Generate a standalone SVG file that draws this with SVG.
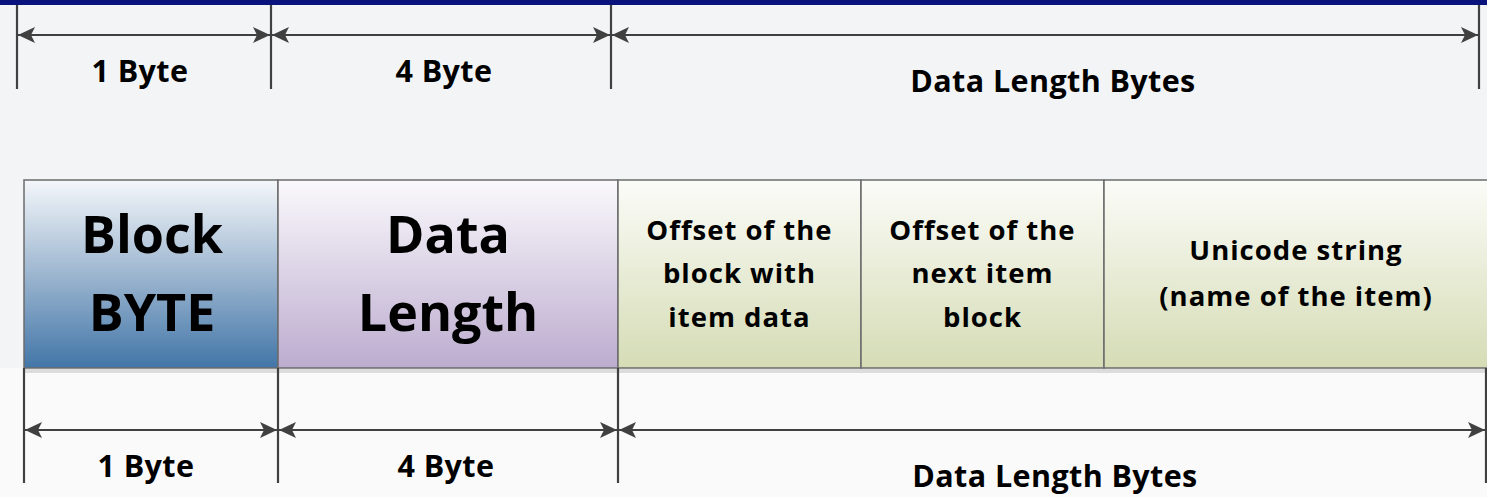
<svg xmlns="http://www.w3.org/2000/svg" width="1487" height="497" viewBox="0 0 1487 497">
  <defs>
    <linearGradient id="gBlue" x1="0" y1="0" x2="0" y2="1">
      <stop offset="0" stop-color="#f4f7fa"/>
      <stop offset="0.5" stop-color="#9db6d0"/>
      <stop offset="1" stop-color="#4276a8"/>
    </linearGradient>
    <linearGradient id="gPurple" x1="0" y1="0" x2="0" y2="1">
      <stop offset="0" stop-color="#faf9fc"/>
      <stop offset="1" stop-color="#bcaccf"/>
    </linearGradient>
    <linearGradient id="gGreen" x1="0" y1="0" x2="0" y2="1">
      <stop offset="0" stop-color="#fbfcf8"/>
      <stop offset="1" stop-color="#d5dcb5"/>
    </linearGradient>
    <marker id="ah" viewBox="0 0 17 16" refX="17" refY="8" markerWidth="17" markerHeight="16" markerUnits="userSpaceOnUse" orient="auto-start-reverse">
      <path d="M0,0 L17,8 L0,16 L4,8 Z" fill="#404040"/>
    </marker>
  </defs>
  <style>
    .tick { stroke: #404040; stroke-width: 2.2; }
    .dim { stroke: #404040; stroke-width: 2.2; fill: none; marker-start: url(#ah); marker-end: url(#ah); }
    .cell { stroke: #6b6b6b; stroke-width: 1.5; }
    text { font-family: "Open Sans", "Liberation Sans", sans-serif; font-weight: bold; fill: #000; text-anchor: middle; }
    .big { font-size: 52px; }
    .mid { font-size: 27.5px; letter-spacing: 1px; }
    .lbl { font-size: 30.5px; letter-spacing: 0.4px; }
  </style>

  <!-- background -->
  <rect x="0" y="0" width="1487" height="497" fill="#f3f4f6"/>
  <rect x="0" y="368" width="1487" height="129" fill="#fafafb"/>
  <rect x="0" y="0" width="1487" height="5" fill="#0a127c"/>
  <rect x="24" y="369" width="1463" height="4" fill="#dcdcdc"/>

  <!-- field cells -->
  <g id="block-byte">
    <rect class="cell" x="24" y="180" width="254" height="188" fill="url(#gBlue)"/>
    <text class="big" x="152" y="253">Block</text>
    <text class="big" x="152" y="331">BYTE</text>
  </g>
  <g id="data-length">
    <rect class="cell" x="278" y="180" width="340" height="188" fill="url(#gPurple)"/>
    <text class="big" x="448" y="253">Data</text>
    <text class="big" x="448" y="331">Length</text>
  </g>
  <g id="offset-item-data">
    <rect class="cell" x="618" y="180" width="243" height="188" fill="url(#gGreen)"/>
    <text class="mid" x="739.5" y="240">Offset of the</text>
    <text class="mid" x="739.5" y="283">block with</text>
    <text class="mid" x="739.5" y="327">item data</text>
  </g>
  <g id="offset-next-item">
    <rect class="cell" x="861" y="180" width="243" height="188" fill="url(#gGreen)"/>
    <text class="mid" x="982.5" y="240">Offset of the</text>
    <text class="mid" x="982.5" y="283">next item</text>
    <text class="mid" x="982.5" y="327">block</text>
  </g>
  <g id="unicode-name">
    <rect class="cell" x="1104" y="180" width="386" height="188" fill="url(#gGreen)"/>
    <text class="mid" x="1296" y="260">Unicode string</text>
    <text class="mid" x="1296" y="306">(name of the item)</text>
  </g>

  <!-- size dimension lines -->
  <g id="connectors">
    <line class="tick" x1="17" y1="5" x2="17" y2="89"/>
    <line class="tick" x1="271" y1="5" x2="271" y2="89"/>
    <line class="tick" x1="611" y1="5" x2="611" y2="89"/>
    <line class="tick" x1="1479" y1="5" x2="1479" y2="89"/>
    <line class="dim" x1="18" y1="35" x2="270" y2="35"/>
    <line class="dim" x1="272" y1="35" x2="610" y2="35"/>
    <line class="dim" x1="612" y1="35" x2="1478" y2="35"/>

    <line class="tick" x1="24" y1="368" x2="24" y2="483"/>
    <line class="tick" x1="278" y1="368" x2="278" y2="483"/>
    <line class="tick" x1="618" y1="368" x2="618" y2="483"/>
    <line class="tick" x1="1486" y1="368" x2="1486" y2="483"/>
    <line class="dim" x1="25" y1="430" x2="277" y2="430"/>
    <line class="dim" x1="279" y1="430" x2="617" y2="430"/>
    <line class="dim" x1="619" y1="430" x2="1485" y2="430"/>
  </g>

  <g id="size-labels">
    <text class="lbl" x="140" y="82">1 Byte</text>
    <text class="lbl" x="444" y="82">4 Byte</text>
    <text class="lbl" x="1053" y="92">Data Length Bytes</text>
    <text class="lbl" x="146" y="477">1 Byte</text>
    <text class="lbl" x="446" y="477">4 Byte</text>
    <text class="lbl" x="1055" y="487">Data Length Bytes</text>
  </g>
</svg>
